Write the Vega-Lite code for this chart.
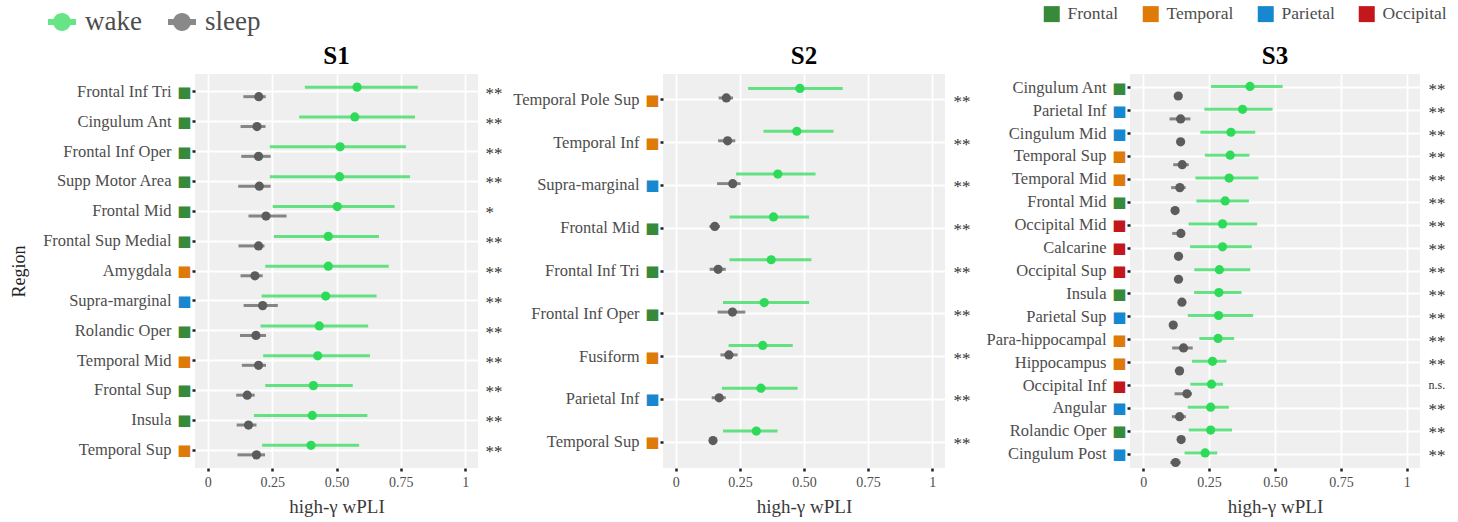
{
  "$schema": "https://vega.github.io/schema/vega-lite/v6.json",
  "padding": {"left": 10, "top": 5, "right": 5, "bottom": 3},
  "background": "white",
  "config": {
    "font": "Liberation Serif",
    "view": {"fill": "#efefef", "stroke": null},
    "axis": {"domain": false, "titleFontWeight": "normal"},
    "legend": {"labelFont": "Liberation Serif"}
  },
  "datasets": {
    "s1": [
      {"region": "Frontal Inf Tri", "lobe": "Frontal", "state": "wake", "v": 0.580, "lo": 0.377, "hi": 0.816, "sig": "**"},
      {"region": "Frontal Inf Tri", "lobe": "Frontal", "state": "sleep", "v": 0.198, "lo": 0.138, "hi": 0.225, "sig": "**"},
      {"region": "Cingulum Ant", "lobe": "Frontal", "state": "wake", "v": 0.571, "lo": 0.355, "hi": 0.805, "sig": "**"},
      {"region": "Cingulum Ant", "lobe": "Frontal", "state": "sleep", "v": 0.191, "lo": 0.127, "hi": 0.224, "sig": "**"},
      {"region": "Frontal Inf Oper", "lobe": "Frontal", "state": "wake", "v": 0.514, "lo": 0.241, "hi": 0.770, "sig": "**"},
      {"region": "Frontal Inf Oper", "lobe": "Frontal", "state": "sleep", "v": 0.197, "lo": 0.130, "hi": 0.244, "sig": "**"},
      {"region": "Supp Motor Area", "lobe": "Frontal", "state": "wake", "v": 0.512, "lo": 0.241, "hi": 0.786, "sig": "**"},
      {"region": "Supp Motor Area", "lobe": "Frontal", "state": "sleep", "v": 0.200, "lo": 0.118, "hi": 0.244, "sig": "**"},
      {"region": "Frontal Mid", "lobe": "Frontal", "state": "wake", "v": 0.503, "lo": 0.252, "hi": 0.726, "sig": "*"},
      {"region": "Frontal Mid", "lobe": "Frontal", "state": "sleep", "v": 0.226, "lo": 0.158, "hi": 0.306, "sig": "*"},
      {"region": "Frontal Sup Medial", "lobe": "Frontal", "state": "wake", "v": 0.468, "lo": 0.257, "hi": 0.665, "sig": "**"},
      {"region": "Frontal Sup Medial", "lobe": "Frontal", "state": "sleep", "v": 0.197, "lo": 0.119, "hi": 0.220, "sig": "**"},
      {"region": "Amygdala", "lobe": "Temporal", "state": "wake", "v": 0.468, "lo": 0.223, "hi": 0.703, "sig": "**"},
      {"region": "Amygdala", "lobe": "Temporal", "state": "sleep", "v": 0.183, "lo": 0.127, "hi": 0.213, "sig": "**"},
      {"region": "Supra-marginal", "lobe": "Parietal", "state": "wake", "v": 0.458, "lo": 0.209, "hi": 0.656, "sig": "**"},
      {"region": "Supra-marginal", "lobe": "Parietal", "state": "sleep", "v": 0.213, "lo": 0.139, "hi": 0.272, "sig": "**"},
      {"region": "Rolandic Oper", "lobe": "Frontal", "state": "wake", "v": 0.433, "lo": 0.205, "hi": 0.623, "sig": "**"},
      {"region": "Rolandic Oper", "lobe": "Frontal", "state": "sleep", "v": 0.187, "lo": 0.125, "hi": 0.226, "sig": "**"},
      {"region": "Temporal Mid", "lobe": "Temporal", "state": "wake", "v": 0.427, "lo": 0.215, "hi": 0.630, "sig": "**"},
      {"region": "Temporal Mid", "lobe": "Temporal", "state": "sleep", "v": 0.197, "lo": 0.132, "hi": 0.226, "sig": "**"},
      {"region": "Frontal Sup", "lobe": "Frontal", "state": "wake", "v": 0.410, "lo": 0.223, "hi": 0.563, "sig": "**"},
      {"region": "Frontal Sup", "lobe": "Frontal", "state": "sleep", "v": 0.153, "lo": 0.110, "hi": 0.182, "sig": "**"},
      {"region": "Insula", "lobe": "Frontal", "state": "wake", "v": 0.406, "lo": 0.179, "hi": 0.620, "sig": "**"},
      {"region": "Insula", "lobe": "Frontal", "state": "sleep", "v": 0.158, "lo": 0.112, "hi": 0.189, "sig": "**"},
      {"region": "Temporal Sup", "lobe": "Temporal", "state": "wake", "v": 0.401, "lo": 0.211, "hi": 0.588, "sig": "**"},
      {"region": "Temporal Sup", "lobe": "Temporal", "state": "sleep", "v": 0.189, "lo": 0.115, "hi": 0.222, "sig": "**"}
    ],
    "s2": [
      {"region": "Temporal Pole Sup", "lobe": "Temporal", "state": "wake", "v": 0.484, "lo": 0.282, "hi": 0.651, "sig": "**"},
      {"region": "Temporal Pole Sup", "lobe": "Temporal", "state": "sleep", "v": 0.197, "lo": 0.167, "hi": 0.223, "sig": "**"},
      {"region": "Temporal Inf", "lobe": "Temporal", "state": "wake", "v": 0.472, "lo": 0.342, "hi": 0.615, "sig": "**"},
      {"region": "Temporal Inf", "lobe": "Temporal", "state": "sleep", "v": 0.202, "lo": 0.165, "hi": 0.232, "sig": "**"},
      {"region": "Supra-marginal", "lobe": "Parietal", "state": "wake", "v": 0.398, "lo": 0.235, "hi": 0.545, "sig": "**"},
      {"region": "Supra-marginal", "lobe": "Parietal", "state": "sleep", "v": 0.222, "lo": 0.161, "hi": 0.253, "sig": "**"},
      {"region": "Frontal Mid", "lobe": "Frontal", "state": "wake", "v": 0.381, "lo": 0.210, "hi": 0.520, "sig": "**"},
      {"region": "Frontal Mid", "lobe": "Frontal", "state": "sleep", "v": 0.152, "lo": 0.131, "hi": 0.172, "sig": "**"},
      {"region": "Frontal Inf Tri", "lobe": "Frontal", "state": "wake", "v": 0.372, "lo": 0.209, "hi": 0.529, "sig": "**"},
      {"region": "Frontal Inf Tri", "lobe": "Frontal", "state": "sleep", "v": 0.165, "lo": 0.132, "hi": 0.195, "sig": "**"},
      {"region": "Frontal Inf Oper", "lobe": "Frontal", "state": "wake", "v": 0.345, "lo": 0.184, "hi": 0.520, "sig": "**"},
      {"region": "Frontal Inf Oper", "lobe": "Frontal", "state": "sleep", "v": 0.221, "lo": 0.163, "hi": 0.271, "sig": "**"},
      {"region": "Fusiform", "lobe": "Temporal", "state": "wake", "v": 0.339, "lo": 0.206, "hi": 0.456, "sig": "**"},
      {"region": "Fusiform", "lobe": "Temporal", "state": "sleep", "v": 0.207, "lo": 0.174, "hi": 0.241, "sig": "**"},
      {"region": "Parietal Inf", "lobe": "Parietal", "state": "wake", "v": 0.332, "lo": 0.180, "hi": 0.475, "sig": "**"},
      {"region": "Parietal Inf", "lobe": "Parietal", "state": "sleep", "v": 0.169, "lo": 0.140, "hi": 0.195, "sig": "**"},
      {"region": "Temporal Sup", "lobe": "Temporal", "state": "wake", "v": 0.314, "lo": 0.184, "hi": 0.397, "sig": "**"},
      {"region": "Temporal Sup", "lobe": "Temporal", "state": "sleep", "v": 0.145, "lo": 0.135, "hi": 0.155, "sig": "**"}
    ],
    "s3": [
      {"region": "Cingulum Ant", "lobe": "Frontal", "state": "wake", "v": 0.405, "lo": 0.257, "hi": 0.529, "sig": "**"},
      {"region": "Cingulum Ant", "lobe": "Frontal", "state": "sleep", "v": 0.133, "lo": 0.120, "hi": 0.145, "sig": "**"},
      {"region": "Parietal Inf", "lobe": "Parietal", "state": "wake", "v": 0.377, "lo": 0.232, "hi": 0.491, "sig": "**"},
      {"region": "Parietal Inf", "lobe": "Parietal", "state": "sleep", "v": 0.142, "lo": 0.100, "hi": 0.179, "sig": "**"},
      {"region": "Cingulum Mid", "lobe": "Parietal", "state": "wake", "v": 0.333, "lo": 0.217, "hi": 0.425, "sig": "**"},
      {"region": "Cingulum Mid", "lobe": "Parietal", "state": "sleep", "v": 0.142, "lo": 0.128, "hi": 0.155, "sig": "**"},
      {"region": "Temporal Sup", "lobe": "Temporal", "state": "wake", "v": 0.330, "lo": 0.234, "hi": 0.403, "sig": "**"},
      {"region": "Temporal Sup", "lobe": "Temporal", "state": "sleep", "v": 0.148, "lo": 0.114, "hi": 0.173, "sig": "**"},
      {"region": "Temporal Mid", "lobe": "Temporal", "state": "wake", "v": 0.326, "lo": 0.198, "hi": 0.437, "sig": "**"},
      {"region": "Temporal Mid", "lobe": "Temporal", "state": "sleep", "v": 0.139, "lo": 0.106, "hi": 0.161, "sig": "**"},
      {"region": "Frontal Mid", "lobe": "Frontal", "state": "wake", "v": 0.311, "lo": 0.202, "hi": 0.401, "sig": "**"},
      {"region": "Frontal Mid", "lobe": "Frontal", "state": "sleep", "v": 0.121, "lo": 0.110, "hi": 0.130, "sig": "**"},
      {"region": "Occipital Mid", "lobe": "Occipital", "state": "wake", "v": 0.301, "lo": 0.172, "hi": 0.432, "sig": "**"},
      {"region": "Occipital Mid", "lobe": "Occipital", "state": "sleep", "v": 0.143, "lo": 0.110, "hi": 0.155, "sig": "**"},
      {"region": "Calcarine", "lobe": "Occipital", "state": "wake", "v": 0.301, "lo": 0.178, "hi": 0.412, "sig": "**"},
      {"region": "Calcarine", "lobe": "Occipital", "state": "sleep", "v": 0.134, "lo": 0.120, "hi": 0.150, "sig": "**"},
      {"region": "Occipital Sup", "lobe": "Occipital", "state": "wake", "v": 0.289, "lo": 0.194, "hi": 0.406, "sig": "**"},
      {"region": "Occipital Sup", "lobe": "Occipital", "state": "sleep", "v": 0.134, "lo": 0.120, "hi": 0.148, "sig": "**"},
      {"region": "Insula", "lobe": "Frontal", "state": "wake", "v": 0.287, "lo": 0.193, "hi": 0.373, "sig": "**"},
      {"region": "Insula", "lobe": "Frontal", "state": "sleep", "v": 0.147, "lo": 0.135, "hi": 0.160, "sig": "**"},
      {"region": "Parietal Sup", "lobe": "Parietal", "state": "wake", "v": 0.286, "lo": 0.169, "hi": 0.417, "sig": "**"},
      {"region": "Parietal Sup", "lobe": "Parietal", "state": "sleep", "v": 0.114, "lo": 0.108, "hi": 0.120, "sig": "**"},
      {"region": "Para-hippocampal", "lobe": "Temporal", "state": "wake", "v": 0.284, "lo": 0.213, "hi": 0.345, "sig": "**"},
      {"region": "Para-hippocampal", "lobe": "Temporal", "state": "sleep", "v": 0.153, "lo": 0.110, "hi": 0.188, "sig": "**"},
      {"region": "Hippocampus", "lobe": "Temporal", "state": "wake", "v": 0.263, "lo": 0.185, "hi": 0.316, "sig": "**"},
      {"region": "Hippocampus", "lobe": "Temporal", "state": "sleep", "v": 0.138, "lo": 0.120, "hi": 0.152, "sig": "**"},
      {"region": "Occipital Inf", "lobe": "Occipital", "state": "wake", "v": 0.259, "lo": 0.179, "hi": 0.303, "sig": "n.s."},
      {"region": "Occipital Inf", "lobe": "Occipital", "state": "sleep", "v": 0.166, "lo": 0.119, "hi": 0.185, "sig": "n.s."},
      {"region": "Angular", "lobe": "Parietal", "state": "wake", "v": 0.256, "lo": 0.169, "hi": 0.325, "sig": "**"},
      {"region": "Angular", "lobe": "Parietal", "state": "sleep", "v": 0.138, "lo": 0.109, "hi": 0.162, "sig": "**"},
      {"region": "Rolandic Oper", "lobe": "Frontal", "state": "wake", "v": 0.256, "lo": 0.173, "hi": 0.337, "sig": "**"},
      {"region": "Rolandic Oper", "lobe": "Frontal", "state": "sleep", "v": 0.144, "lo": 0.130, "hi": 0.155, "sig": "**"},
      {"region": "Cingulum Post", "lobe": "Parietal", "state": "wake", "v": 0.235, "lo": 0.157, "hi": 0.281, "sig": "**"},
      {"region": "Cingulum Post", "lobe": "Parietal", "state": "sleep", "v": 0.123, "lo": 0.103, "hi": 0.142, "sig": "**"}
    ]
  },
  "bounds": "flush",
  "spacing": 185,
  "resolve": {"scale": {"color": "shared", "fill": "shared"}, "legend": {"color": "shared", "fill": "shared"}},
  "hconcat": [
    {
      "width": 283, "height": 394,
      "title": {"text": "S1", "fontSize": 25, "fontWeight": "bold", "color": "#000000", "font": "Liberation Serif", "offset": 5, "anchor": "middle"},
      "data": {"name": "s1"},
      "resolve": {"axis": {"y": "independent"}},
      "layer": [
        {
          "mark": {"type": "rule", "strokeWidth": 3, "opacity": 0.72},
          "encoding": {
            "y": {"field": "region", "type": "nominal", "sort": null, "scale": {"type": "band", "paddingInner": 0, "paddingOuter": 0.1},
              "axis": {"orient": "left", "title": "Region", "ticks": false, "tickSize": 0, "grid": false, "labelPadding": 24, "labelFontSize": 16.5, "labelColor": "#4d4d4d", "titleFontSize": 18, "titleColor": "#222222", "titlePadding": 14}},
            "yOffset": {"field": "state", "type": "nominal", "sort": ["wake", "sleep"], "scale": {"paddingOuter": 0.5625, "paddingInner": 0}},
            "x": {"field": "lo", "type": "quantitative", "scale": {"domain": [-0.05, 1.05], "nice": false, "zero": false},
              "axis": {"title": "high-γ wPLI", "values": [0, 0.125, 0.25, 0.375, 0.5, 0.625, 0.75, 0.875, 1], "labelExpr": "datum.value == 0 ? '0' : datum.value == 1 ? '1' : datum.value % 0.25 == 0 ? format(datum.value, '.2f') : ''", "labelOverlap": false, "labelFlush": false, "labelFontSize": 14, "labelColor": "#4d4d4d", "labelPadding": 4, "tickSize": 3, "tickWidth": 2.5, "tickColor": {"condition": {"test": "datum.value % 0.25 != 0", "value": "transparent"}, "value": "#222222"}, "grid": true, "gridColor": "#ffffff", "gridWidth": {"condition": {"test": "datum.value % 0.25 != 0", "value": 1.1}, "value": 1.8}, "titleFontSize": 19, "titleColor": "#3a3a3a", "titlePadding": 8}},
            "x2": {"field": "hi"},
            "color": {"field": "state", "type": "nominal", "scale": {"domain": ["wake", "sleep"], "range": ["#2ddb58", "#5c5c5c"]}}
          }
        },
        {
          "mark": {"type": "circle", "size": 85, "opacity": 1},
          "encoding": {
            "y": {"field": "region", "type": "nominal", "sort": null, "scale": {"type": "band", "paddingInner": 0, "paddingOuter": 0.1},
              "axis": {"orient": "left", "title": null, "labelExpr": "'■'", "labelFont": "DejaVu Sans", "labelFontSize": 15, "labelPadding": 1, "labelBaseline": "middle", "tickSize": 3, "tickWidth": 2.5, "tickColor": "#222222", "grid": true, "gridColor": "#ffffff", "gridWidth": 1.8,
                "labelColor": {"condition": [
                  {"test": "indexof(['Amygdala','Temporal Mid','Temporal Sup','Temporal Pole Sup','Temporal Inf','Fusiform','Para-hippocampal','Hippocampus'], datum.value) >= 0", "value": "#de7a07"},
                  {"test": "indexof(['Supra-marginal','Parietal Inf','Cingulum Mid','Parietal Sup','Angular','Cingulum Post'], datum.value) >= 0", "value": "#1788d0"},
                  {"test": "indexof(['Occipital Mid','Calcarine','Occipital Sup','Occipital Inf'], datum.value) >= 0", "value": "#c4171c"}
                ], "value": "#378a3a"}}},
            "yOffset": {"field": "state", "type": "nominal", "sort": ["wake", "sleep"], "scale": {"paddingOuter": 0.5625, "paddingInner": 0}},
            "x": {"field": "v", "type": "quantitative"},
            "color": {"field": "state", "type": "nominal", "scale": {"domain": ["wake", "sleep"], "range": ["#2ddb58", "#5c5c5c"]},
              "legend": {"title": null, "orient": "none", "legendX": -147, "legendY": -66, "direction": "horizontal", "symbolType": "M-1,-0.21H1V0.21H-1Z M0.64,0A0.64,0.64,0,1,1,-0.64,0A0.64,0.64,0,1,1,0.64,0Z", "symbolSize": 784, "symbolStrokeWidth": 0, "symbolOpacity": 1, "labelFontSize": 27, "labelColor": "#4d4d4d", "columnPadding": 26, "labelOffset": 9}}
          }
        },
        {
          "mark": {"type": "square", "opacity": 0},
          "encoding": {
            "y": {"field": "region", "type": "nominal", "sort": null, "scale": {"type": "band", "paddingInner": 0, "paddingOuter": 0.1},
              "axis": {"orient": "right", "title": null, "ticks": false, "tickSize": 0, "grid": false, "labelPadding": 7, "labelFontSize": 17, "labelColor": "#333333", "labelExpr": "datum.value == 'Frontal Mid' ? '*' : '**'", "labelOffset": 2}},
            "x": {"field": "v", "type": "quantitative"},
            "fill": {"field": "lobe", "type": "nominal", "scale": {"domain": ["Frontal", "Temporal", "Parietal", "Occipital"], "range": ["#378a3a", "#de7a07", "#1788d0", "#c4171c"]}}
          }
        }
      ]
    },
    {
      "width": 282, "height": 394,
      "title": {"text": "S2", "fontSize": 25, "fontWeight": "bold", "color": "#000000", "font": "Liberation Serif", "offset": 5, "anchor": "middle"},
      "data": {"name": "s2"},
      "resolve": {"axis": {"y": "independent"}},
      "layer": [
        {
          "mark": {"type": "rule", "strokeWidth": 3, "opacity": 0.72},
          "encoding": {
            "y": {"field": "region", "type": "nominal", "sort": null, "scale": {"type": "band", "paddingInner": 0, "paddingOuter": 0.1},
              "axis": {"orient": "left", "title": null, "ticks": false, "tickSize": 0, "grid": false, "labelPadding": 24, "labelFontSize": 16.5, "labelColor": "#4d4d4d"}},
            "yOffset": {"field": "state", "type": "nominal", "sort": ["wake", "sleep"], "scale": {"paddingOuter": 0.5625, "paddingInner": 0}},
            "x": {"field": "lo", "type": "quantitative", "scale": {"domain": [-0.05, 1.05], "nice": false, "zero": false},
              "axis": {"title": "high-γ wPLI", "values": [0, 0.125, 0.25, 0.375, 0.5, 0.625, 0.75, 0.875, 1], "labelExpr": "datum.value == 0 ? '0' : datum.value == 1 ? '1' : datum.value % 0.25 == 0 ? format(datum.value, '.2f') : ''", "labelOverlap": false, "labelFlush": false, "labelFontSize": 14, "labelColor": "#4d4d4d", "labelPadding": 4, "tickSize": 3, "tickWidth": 2.5, "tickColor": {"condition": {"test": "datum.value % 0.25 != 0", "value": "transparent"}, "value": "#222222"}, "grid": true, "gridColor": "#ffffff", "gridWidth": {"condition": {"test": "datum.value % 0.25 != 0", "value": 1.1}, "value": 1.8}, "titleFontSize": 19, "titleColor": "#3a3a3a", "titlePadding": 8}},
            "x2": {"field": "hi"},
            "color": {"field": "state", "type": "nominal", "scale": {"domain": ["wake", "sleep"], "range": ["#2ddb58", "#5c5c5c"]}}
          }
        },
        {
          "mark": {"type": "circle", "size": 85, "opacity": 1},
          "encoding": {
            "y": {"field": "region", "type": "nominal", "sort": null, "scale": {"type": "band", "paddingInner": 0, "paddingOuter": 0.1},
              "axis": {"orient": "left", "title": null, "labelExpr": "'■'", "labelFont": "DejaVu Sans", "labelFontSize": 15, "labelPadding": 1, "labelBaseline": "middle", "tickSize": 3, "tickWidth": 2.5, "tickColor": "#222222", "grid": true, "gridColor": "#ffffff", "gridWidth": 1.8,
                "labelColor": {"condition": [
                  {"test": "indexof(['Amygdala','Temporal Mid','Temporal Sup','Temporal Pole Sup','Temporal Inf','Fusiform','Para-hippocampal','Hippocampus'], datum.value) >= 0", "value": "#de7a07"},
                  {"test": "indexof(['Supra-marginal','Parietal Inf','Cingulum Mid','Parietal Sup','Angular','Cingulum Post'], datum.value) >= 0", "value": "#1788d0"},
                  {"test": "indexof(['Occipital Mid','Calcarine','Occipital Sup','Occipital Inf'], datum.value) >= 0", "value": "#c4171c"}
                ], "value": "#378a3a"}}},
            "yOffset": {"field": "state", "type": "nominal", "sort": ["wake", "sleep"], "scale": {"paddingOuter": 0.5625, "paddingInner": 0}},
            "x": {"field": "v", "type": "quantitative"},
            "color": {"field": "state", "type": "nominal", "scale": {"domain": ["wake", "sleep"], "range": ["#2ddb58", "#5c5c5c"]}}
          }
        },
        {
          "mark": {"type": "square", "opacity": 0},
          "encoding": {
            "y": {"field": "region", "type": "nominal", "sort": null, "scale": {"type": "band", "paddingInner": 0, "paddingOuter": 0.1},
              "axis": {"orient": "right", "title": null, "ticks": false, "tickSize": 0, "grid": false, "labelPadding": 8, "labelFontSize": 17, "labelColor": "#333333", "labelExpr": "'**'", "labelOffset": 2}},
            "x": {"field": "v", "type": "quantitative"},
            "fill": {"field": "lobe", "type": "nominal", "scale": {"domain": ["Frontal", "Temporal", "Parietal", "Occipital"], "range": ["#378a3a", "#de7a07", "#1788d0", "#c4171c"]}}
          }
        }
      ]
    },
    {
      "width": 290, "height": 394,
      "title": {"text": "S3", "fontSize": 25, "fontWeight": "bold", "color": "#000000", "font": "Liberation Serif", "offset": 5, "anchor": "middle"},
      "data": {"name": "s3"},
      "resolve": {"axis": {"y": "independent"}},
      "layer": [
        {
          "mark": {"type": "rule", "strokeWidth": 3, "opacity": 0.72},
          "encoding": {
            "y": {"field": "region", "type": "nominal", "sort": null, "scale": {"type": "band", "paddingInner": 0, "paddingOuter": 0.1},
              "axis": {"orient": "left", "title": null, "ticks": false, "tickSize": 0, "grid": false, "labelPadding": 24, "labelFontSize": 16.5, "labelColor": "#4d4d4d"}},
            "yOffset": {"field": "state", "type": "nominal", "sort": ["wake", "sleep"], "scale": {"paddingOuter": 0.5625, "paddingInner": 0}},
            "x": {"field": "lo", "type": "quantitative", "scale": {"domain": [-0.05, 1.05], "nice": false, "zero": false},
              "axis": {"title": "high-γ wPLI", "values": [0, 0.125, 0.25, 0.375, 0.5, 0.625, 0.75, 0.875, 1], "labelExpr": "datum.value == 0 ? '0' : datum.value == 1 ? '1' : datum.value % 0.25 == 0 ? format(datum.value, '.2f') : ''", "labelOverlap": false, "labelFlush": false, "labelFontSize": 14, "labelColor": "#4d4d4d", "labelPadding": 4, "tickSize": 3, "tickWidth": 2.5, "tickColor": {"condition": {"test": "datum.value % 0.25 != 0", "value": "transparent"}, "value": "#222222"}, "grid": true, "gridColor": "#ffffff", "gridWidth": {"condition": {"test": "datum.value % 0.25 != 0", "value": 1.1}, "value": 1.8}, "titleFontSize": 19, "titleColor": "#3a3a3a", "titlePadding": 8}},
            "x2": {"field": "hi"},
            "color": {"field": "state", "type": "nominal", "scale": {"domain": ["wake", "sleep"], "range": ["#2ddb58", "#5c5c5c"]}}
          }
        },
        {
          "mark": {"type": "circle", "size": 85, "opacity": 1},
          "encoding": {
            "y": {"field": "region", "type": "nominal", "sort": null, "scale": {"type": "band", "paddingInner": 0, "paddingOuter": 0.1},
              "axis": {"orient": "left", "title": null, "labelExpr": "'■'", "labelFont": "DejaVu Sans", "labelFontSize": 15, "labelPadding": 1, "labelBaseline": "middle", "tickSize": 3, "tickWidth": 2.5, "tickColor": "#222222", "grid": true, "gridColor": "#ffffff", "gridWidth": 1.8,
                "labelColor": {"condition": [
                  {"test": "indexof(['Amygdala','Temporal Mid','Temporal Sup','Temporal Pole Sup','Temporal Inf','Fusiform','Para-hippocampal','Hippocampus'], datum.value) >= 0", "value": "#de7a07"},
                  {"test": "indexof(['Supra-marginal','Parietal Inf','Cingulum Mid','Parietal Sup','Angular','Cingulum Post'], datum.value) >= 0", "value": "#1788d0"},
                  {"test": "indexof(['Occipital Mid','Calcarine','Occipital Sup','Occipital Inf'], datum.value) >= 0", "value": "#c4171c"}
                ], "value": "#378a3a"}}},
            "yOffset": {"field": "state", "type": "nominal", "sort": ["wake", "sleep"], "scale": {"paddingOuter": 0.5625, "paddingInner": 0}},
            "x": {"field": "v", "type": "quantitative"},
            "color": {"field": "state", "type": "nominal", "scale": {"domain": ["wake", "sleep"], "range": ["#2ddb58", "#5c5c5c"]}}
          }
        },
        {
          "mark": {"type": "square", "opacity": 0},
          "encoding": {
            "y": {"field": "region", "type": "nominal", "sort": null, "scale": {"type": "band", "paddingInner": 0, "paddingOuter": 0.1},
              "axis": {"orient": "right", "title": null, "ticks": false, "tickSize": 0, "grid": false, "labelPadding": 8, "labelColor": "#333333", "labelExpr": "datum.value == 'Occipital Inf' ? 'n.s.' : '**'", "labelFontSize": {"condition": {"test": "datum.value == 'Occipital Inf'", "value": 12}, "value": 17}, "labelOffset": {"condition": {"test": "datum.value == 'Occipital Inf'", "value": -1}, "value": 2}}},
            "x": {"field": "v", "type": "quantitative"},
            "fill": {"field": "lobe", "type": "nominal", "scale": {"domain": ["Frontal", "Temporal", "Parietal", "Occipital"], "range": ["#378a3a", "#de7a07", "#1788d0", "#c4171c"]},
              "legend": {"title": null, "orient": "none", "legendX": 848, "legendY": -69, "direction": "horizontal", "symbolType": "square", "symbolSize": 256, "symbolOpacity": 1, "symbolStrokeWidth": 0, "labelFontSize": 17.5, "labelColor": "#4d4d4d", "columnPadding": 23, "labelOffset": 7}}
          }
        }
      ]
    }
  ]
}
